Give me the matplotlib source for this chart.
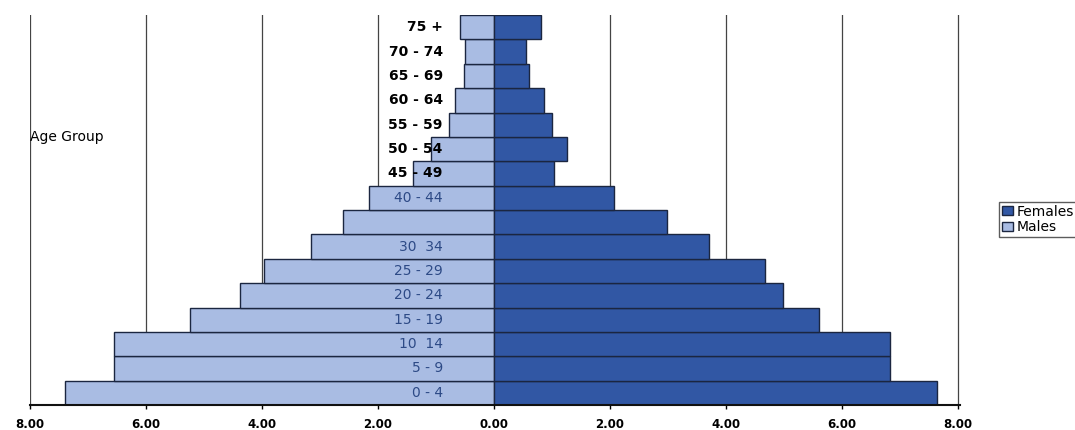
import matplotlib
matplotlib.use("Agg")
import matplotlib.pyplot as plt
import numpy as np

# age groups, bottom to top
age_groups = ["0 - 4", "5 - 9", "10  14", "15 - 19", "20 - 24", "25 - 29", "30  34", "",
              "40 - 44", "45 - 49", "50 - 54", "55 - 59", "60 - 64", "65 - 69", "70 - 74", "75 +"]
males = [7.40, 6.55, 6.55, 5.24, 4.38, 3.97, 3.16, 2.60, 2.16, 1.40, 1.09, 0.78, 0.67, 0.52, 0.50, 0.59]
females = [7.64, 6.83, 6.84, 5.60, 4.98, 4.67, 3.71, 2.98, 2.07, 1.03, 1.26, 1.00, 0.86, 0.60, 0.55, 0.81]
xticks = [-8, -6, -4, -2, 0, 2, 4, 6, 8]
xtick_labels = ["8.00", "6.00", "4.00", "2.00", "0.00", "2.00", "4.00", "6.00", "8.00"]

male_col = "#a9bce3"
female_col = "#3157a4"
edge = "#1b2640"

fig = plt.figure(figsize=(10.75, 4.30), dpi=100)
ax = fig.add_axes([30 / 1075, 25 / 430, (960 - 30) / 1075, 390 / 430])

y = np.arange(len(age_groups))
ax.barh(y, -np.array(males), height=1.0, color=male_col, edgecolor=edge, linewidth=1.0,
        label="Males", zorder=2)
ax.barh(y, females, height=1.0, color=female_col, edgecolor=edge, linewidth=1.0,
        label="Females", zorder=2)

# age labels sit over the male bars
for i, lab in enumerate(age_groups):
    col = "black" if i >= 9 else "#2d4a86"
    ax.text(-0.88, i, lab, ha="right", va="center", fontsize=10, color=col,
            fontweight="semibold" if i >= 9 else "normal", zorder=3)

ax.set_xlim(-8, 8.04)
ax.set_ylim(-0.5, len(age_groups) - 0.5)
ax.set_xticks(xticks)
ax.set_xticklabels(xtick_labels, fontsize=8.5, fontweight="bold")
ax.set_yticks([])
ax.xaxis.grid(True, color="#444444", linewidth=0.9, zorder=0)
ax.set_axisbelow(True)
for s in ["top", "right", "left"]:
    ax.spines[s].set_visible(False)
ax.spines["bottom"].set_color("#111111")
ax.spines["bottom"].set_linewidth(1.5)
ax.tick_params(axis="x", length=3, width=1, pad=6)

fig.text(30 / 1075, 1 - 137 / 430, "Age Group", fontsize=10, va="center", ha="left")

handles, labels = ax.get_legend_handles_labels()
fig.legend(handles[::-1], labels[::-1], loc="upper left", bbox_to_anchor=(992 / 1075, 1 - 195 / 430),
           fontsize=10, frameon=True, fancybox=False, edgecolor="#333333", handlelength=0.8,
           handleheight=0.6, handletextpad=0.3, borderpad=0.2, labelspacing=0.1)

fig.savefig("out.png", dpi=100)
